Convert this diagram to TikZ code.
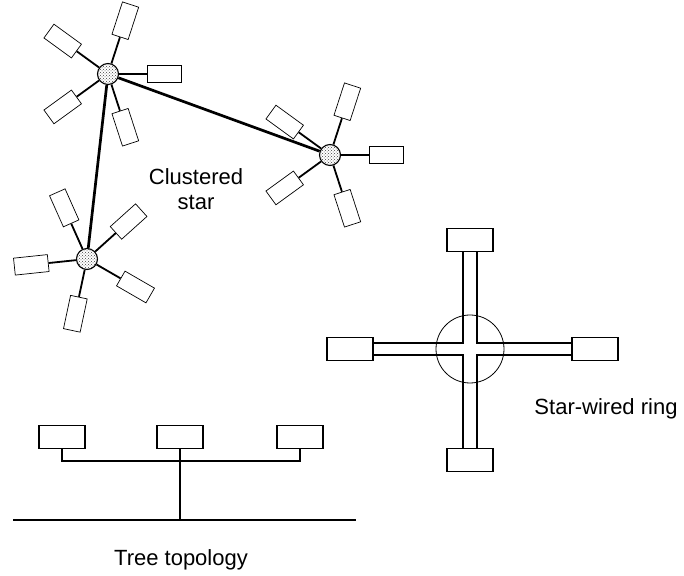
\documentclass[tikz,border=0pt]{standalone}
\usepackage{fontspec}
\setmainfont{Liberation Sans}
\usetikzlibrary{
  calc,        % 坐标计算
  patterns,    % 集线器的点状填充
  positioning  % 节点相对定位
}

\tikzset{
  hub/.style={circle, draw, line width=1.1pt, minimum size=21pt, inner sep=0pt,
    fill=white, postaction={pattern=crosshatch dots, pattern color=black!75}},
  term/.style={draw, line width=0.7pt, minimum width=34pt, minimum height=17pt,
    inner sep=0pt, fill=white},
  station/.style={draw, line width=1.1pt, minimum width=46pt, minimum height=23pt,
    inner sep=0pt, fill=white},
  spoke/.style={line width=1.8pt},
  trunk/.style={line width=2.7pt},
  wire/.style={line width=1.9pt},
  label/.style={font=\fontsize{22}{25}\selectfont, align=center}
}

\begin{document}
\begin{tikzpicture}[x=1pt, y=1pt]
  \useasboundingbox (0,0) rectangle (684,575);

  % 簇状星形：三个集线器
  \node[hub] (c1) at (108,501) {};
  \node[hub] (c2) at (330,420) {};
  \node[hub] (c3) at (87,316) {};
  \draw[trunk] (c1) -- (c2);
  \draw[trunk] (c1) -- (c3);

  % 每个集线器五个终端
  \foreach \h/\off in {c1/0, c2/0, c3/42} {
    \foreach \k in {0,...,4} {
      \pgfmathsetmacro\a{\off+72*\k}
      \node[term, rotate=\a] (\h-\k) at ($(\h)+(\a:56)$) {};
      \draw[spoke] (\h) -- (\h-\k);
    }
  }
  \node[label] (clust) at (196,386) {Clustered\\star};

  % 星形环：中心圆与四个站点
  \node[station] (rtop) at (470,335) {};
  \node[station] (rbot) at (470,115) {};
  \node[station] (rlft) at (350,226) {};
  \node[station] (rrgt) at (595,226) {};
  \draw[wire] ([xshift=-7pt]rtop.south) |- ([yshift=6pt]rlft.east);
  \draw[wire] ([xshift=7pt]rtop.south) |- ([yshift=6pt]rrgt.west);
  \draw[wire] ([xshift=-7pt]rbot.north) |- ([yshift=-6pt]rlft.east);
  \draw[wire] ([xshift=7pt]rbot.north) |- ([yshift=-6pt]rrgt.west);
  \node[circle, draw, line width=0.8pt, minimum size=68pt, inner sep=0pt] (ring) at (470,226) {};
  \node[label, anchor=base] (sring) at (606,160) {Star-wired ring};

  % 树形拓扑
  \node[station] (t1) at (62,138) {};
  \node[station] (t2) at (180,138) {};
  \node[station] (t3) at (300,138) {};
  \coordinate (tj) at (180,114);
  \coordinate (busL) at (13,55);
  \coordinate (busR) at (356,55);
  \draw[wire] (t1.south) |- (tj) -| (t3.south);
  \draw[wire] (t2.south) -- (t2.south |- busL);
  \draw[trunk] (busL) -- (busR);
  \node[label, anchor=base] (tree) at (181,10) {Tree topology};
\end{tikzpicture}
\end{document}
